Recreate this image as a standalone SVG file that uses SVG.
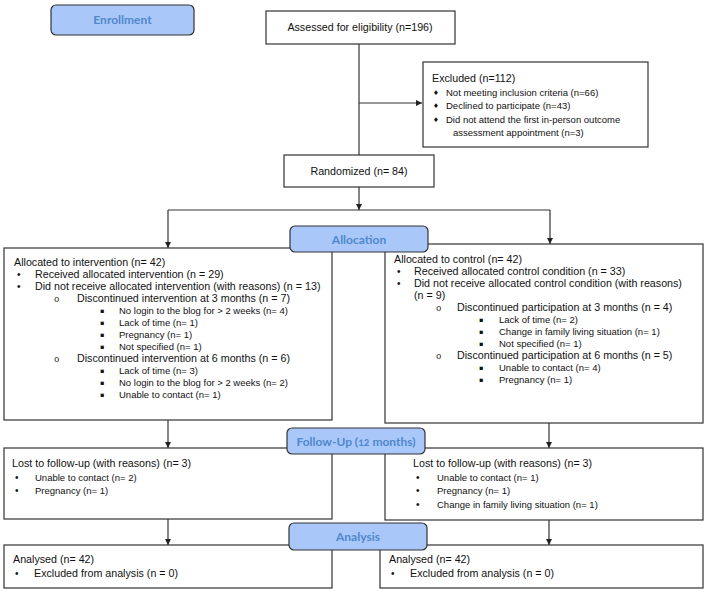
<svg xmlns="http://www.w3.org/2000/svg" width="709" height="594" viewBox="0 0 709 594">
<defs>
<style>
.box{fill:#fff;stroke:#333;stroke-width:1.2}
.hdr{fill:#a9c7f9;stroke:#333;stroke-width:1.2}
.ht{font-family:Lato,"Open Sans",sans-serif;font-weight:bold;font-size:12px;fill:#5088cc;text-anchor:middle}
.t{font-family:"Liberation Sans",Arial,sans-serif;font-size:10.7px;fill:#111}
.s{font-family:"Liberation Sans",Arial,sans-serif;font-size:9.5px;fill:#111}
.b{font-family:"Liberation Sans",Arial,sans-serif;font-size:10px;fill:#111}
.d{font-family:"DejaVu Sans",sans-serif;font-size:6.5px;fill:#111}
.o{font-family:"Liberation Mono",monospace;font-size:9px;fill:#111}
.sq{font-family:"DejaVu Sans",sans-serif;font-size:6.5px;fill:#111}
.ln{stroke:#333;stroke-width:1.2;fill:none}
</style>
<marker id="ah" viewBox="0 0 10 10" refX="10" refY="5" markerWidth="6" markerHeight="7" markerUnits="userSpaceOnUse" orient="auto">
<path d="M0,0 L10,5 L0,10 z" fill="#222"/>
</marker>
</defs>
<rect width="709" height="594" fill="#fff"/>

<g id="connectors">
<path class="ln" d="M359,44 V155"/>
<path class="ln" d="M359,103 H422" marker-end="url(#ah)"/>
<path class="ln" d="M359,187 V210" marker-end="url(#ah)"/>
<path class="ln" d="M168,210 H550"/>
<path class="ln" d="M168,210 V248" marker-end="url(#ah)"/>
<path class="ln" d="M550,210 V244" marker-end="url(#ah)"/>
<path class="ln" d="M168,420 V448" marker-end="url(#ah)"/>
<path class="ln" d="M549,423 V448" marker-end="url(#ah)"/>
<path class="ln" d="M168,519 V545" marker-end="url(#ah)"/>
<path class="ln" d="M549,520 V545" marker-end="url(#ah)"/>
</g>

<g id="enrollment">
<rect class="hdr" x="51" y="5" width="143" height="30" rx="5"/>
<text class="ht" x="122.5" y="24">Enrollment</text>
</g>

<g id="assessed">
<rect class="box" x="266" y="11" width="189" height="33"/>
<text class="t" x="360" y="31" text-anchor="middle">Assessed for eligibility (n=196)</text>
</g>

<g id="excluded">
<rect class="box" x="423" y="62" width="225" height="85"/>
<text class="t" x="432" y="82">Excluded (n=112)</text>
<text class="d" x="433" y="95">♦</text><text class="s" x="446" y="96">Not meeting inclusion criteria (n=66)</text>
<text class="d" x="433" y="108">♦</text><text class="s" x="446" y="109">Declined to participate (n=43)</text>
<text class="d" x="433" y="122">♦</text><text class="s" x="446" y="123">Did not attend the first in-person outcome</text>
<text class="s" x="453" y="136">assessment appointment (n=3)</text>
</g>

<g id="randomized">
<rect class="box" x="284" y="155" width="150" height="32"/>
<text class="t" x="359" y="175" text-anchor="middle">Randomized (n= 84)</text>
</g>

<g id="alloc-left">
<rect class="box" x="4" y="248" width="328" height="172"/>
<text class="t" x="14" y="266">Allocated to intervention (n= 42)</text>
<text class="b" x="17" y="278">•</text><text class="t" x="35" y="278">Received allocated intervention (n = 29)</text>
<text class="b" x="17" y="290">•</text><text class="t" x="35" y="290">Did not receive allocated intervention (with reasons) (n = 13)</text>
<text class="o" x="54" y="302">o</text><text class="t" x="77" y="302">Discontinued intervention at 3 months (n = 7)</text>
<text class="sq" x="100" y="313">▪</text><text class="s" x="119" y="314">No login to the blog for &gt; 2 weeks (n= 4)</text>
<text class="sq" x="100" y="325">▪</text><text class="s" x="119" y="326">Lack of time (n= 1)</text>
<text class="sq" x="100" y="337">▪</text><text class="s" x="119" y="338">Pregnancy (n= 1)</text>
<text class="sq" x="100" y="349">▪</text><text class="s" x="119" y="350">Not specified (n= 1)</text>
<text class="o" x="54" y="362">o</text><text class="t" x="77" y="362">Discontinued intervention at 6 months (n = 6)</text>
<text class="sq" x="100" y="373">▪</text><text class="s" x="119" y="374">Lack of time (n= 3)</text>
<text class="sq" x="100" y="385">▪</text><text class="s" x="119" y="386">No login to the blog for &gt; 2 weeks (n= 2)</text>
<text class="sq" x="100" y="397">▪</text><text class="s" x="119" y="398">Unable to contact (n= 1)</text>
</g>

<g id="alloc-right">
<rect class="box" x="385" y="244" width="318" height="179"/>
<text class="t" x="394" y="263">Allocated to control (n= 42)</text>
<text class="b" x="397" y="275">•</text><text class="t" x="414" y="275">Received allocated control condition (n = 33)</text>
<text class="b" x="397" y="287">•</text><text class="t" x="414" y="287">Did not receive allocated control condition (with reasons)</text>
<text class="t" x="414" y="299">(n = 9)</text>
<text class="o" x="436" y="311">o</text><text class="t" x="457" y="311">Discontinued participation at 3 months (n = 4)</text>
<text class="sq" x="479" y="322">▪</text><text class="s" x="499" y="323">Lack of time (n= 2)</text>
<text class="sq" x="479" y="334">▪</text><text class="s" x="499" y="335">Change in family living situation (n= 1)</text>
<text class="sq" x="479" y="346">▪</text><text class="s" x="499" y="347">Not specified (n= 1)</text>
<text class="o" x="436" y="359">o</text><text class="t" x="457" y="359">Discontinued participation at 6 months (n = 5)</text>
<text class="sq" x="479" y="370">▪</text><text class="s" x="499" y="371">Unable to contact (n= 4)</text>
<text class="sq" x="479" y="382">▪</text><text class="s" x="499" y="383">Pregnancy (n= 1)</text>
</g>

<g id="allocation">
<rect class="hdr" x="290" y="226" width="138" height="26" rx="5"/>
<text class="ht" x="359" y="244">Allocation</text>
</g>

<g id="fu-left">
<rect class="box" x="4" y="448" width="328" height="71"/>
<text class="t" x="12" y="467">Lost to follow-up (with reasons) (n= 3)</text>
<text class="b" x="15" y="481">•</text><text class="s" x="35" y="481">Unable to contact (n= 2)</text>
<text class="b" x="15" y="494">•</text><text class="s" x="35" y="494">Pregnancy (n= 1)</text>
</g>

<g id="fu-right">
<rect class="box" x="385" y="448" width="318" height="72"/>
<text class="t" x="413" y="467">Lost to follow-up (with reasons) (n= 3)</text>
<text class="b" x="416" y="481">•</text><text class="s" x="437" y="481">Unable to contact (n= 1)</text>
<text class="b" x="416" y="494">•</text><text class="s" x="437" y="494">Pregnancy (n= 1)</text>
<text class="b" x="416" y="508">•</text><text class="s" x="437" y="508">Change in family living situation (n= 1)</text>
</g>

<g id="followup">
<rect class="hdr" x="287" y="428" width="138" height="26" rx="5"/>
<text class="ht" x="356" y="446" style="font-variant-numeric:oldstyle-nums">Follow-Up (<tspan font-size="10.5">12</tspan> months)</text>
</g>

<g id="an-left">
<rect class="box" x="4" y="545" width="328" height="43"/>
<text class="t" x="13" y="563">Analysed (n= 42)</text>
<text class="b" x="15" y="577">•</text><text class="t" x="34" y="577">Excluded from analysis (n = 0)</text>
</g>

<g id="an-right">
<rect class="box" x="380" y="545" width="323" height="43"/>
<text class="t" x="389" y="563">Analysed (n= 42)</text>
<text class="b" x="391" y="577">•</text><text class="t" x="410" y="577">Excluded from analysis (n = 0)</text>
</g>

<g id="analysis">
<rect class="hdr" x="289" y="523" width="138" height="27" rx="5"/>
<text class="ht" x="358" y="541">Analysis</text>
</g>
</svg>
